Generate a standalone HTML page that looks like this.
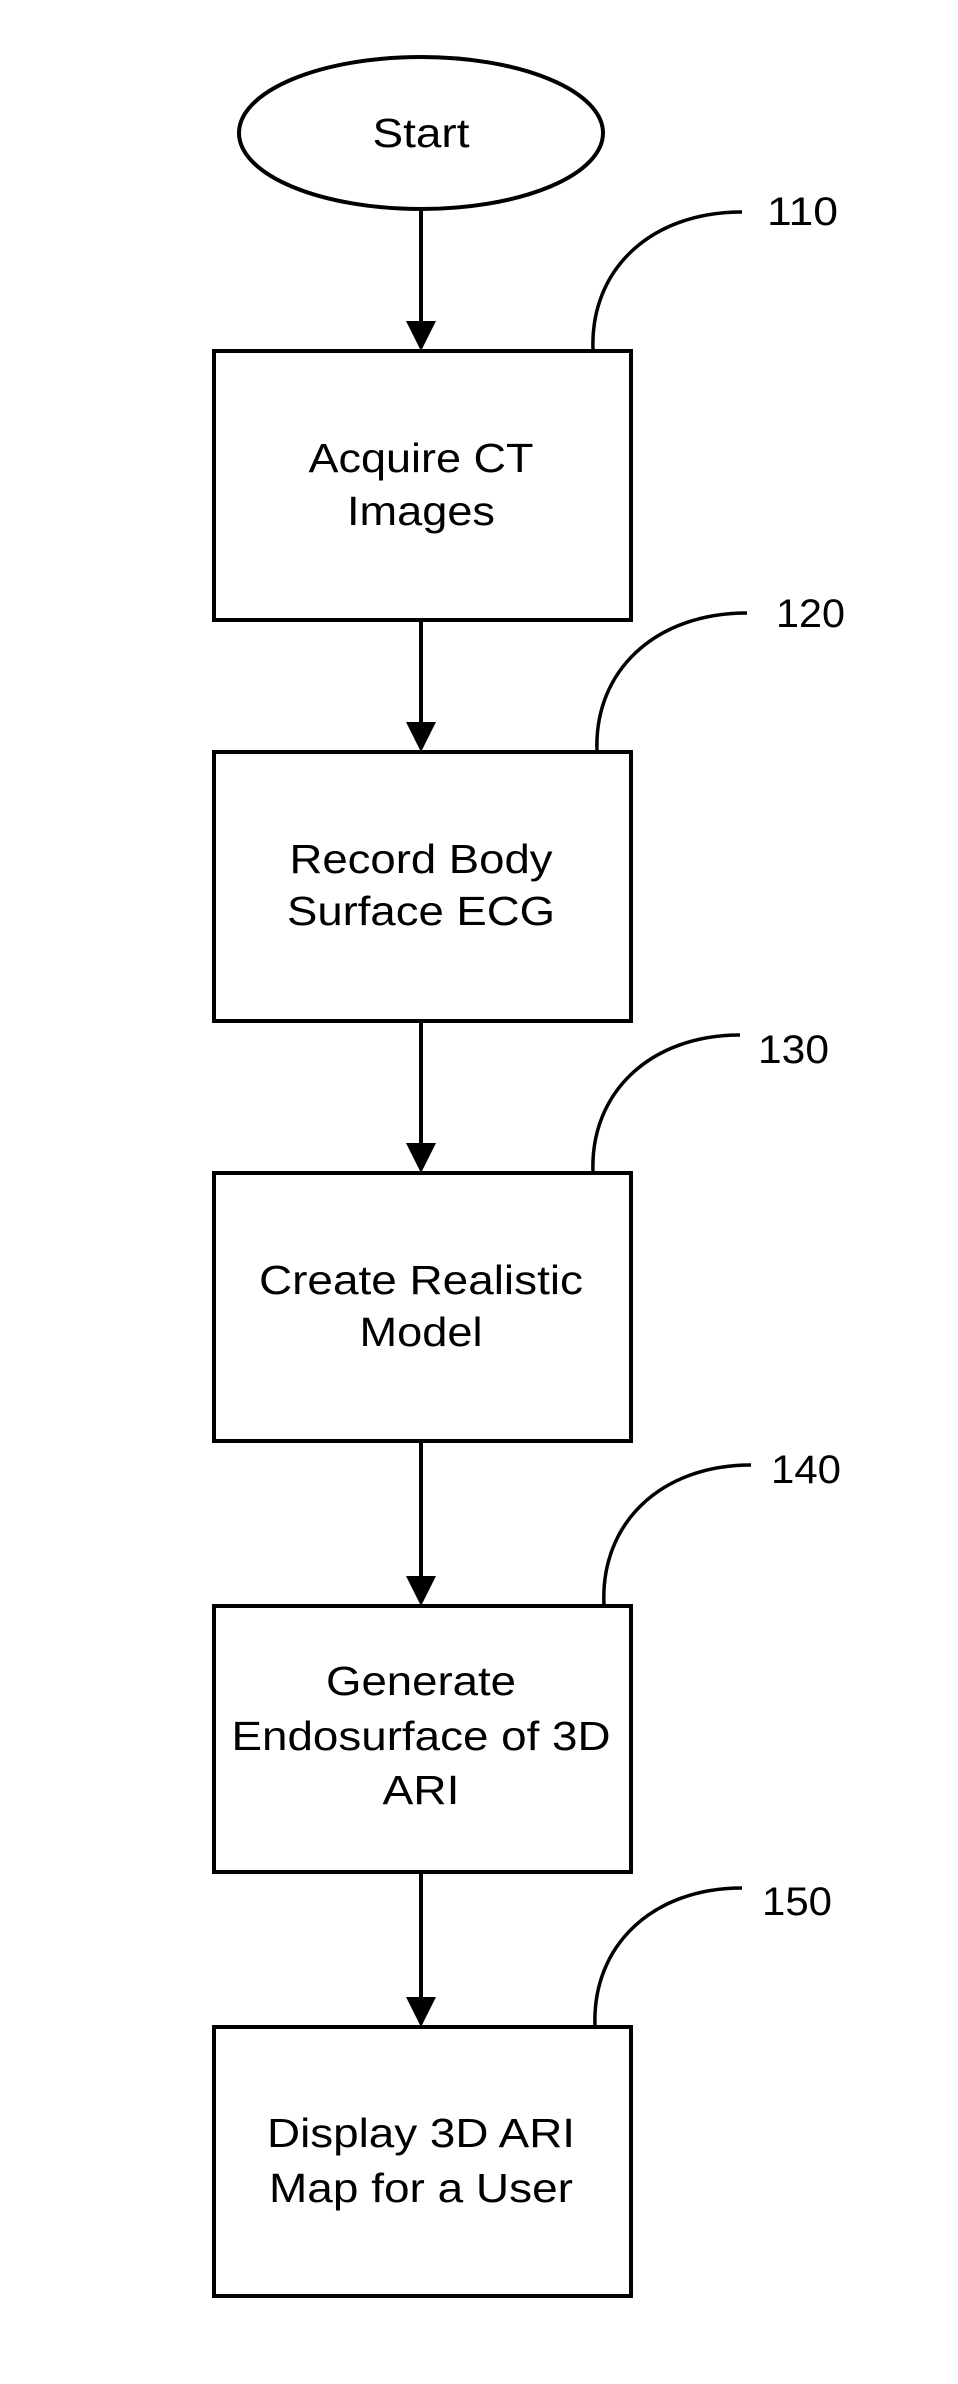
<!DOCTYPE html>
<html><head><meta charset="utf-8"><style>
html,body{margin:0;padding:0;background:#fff;}
svg{display:block;}
text{font-family:"Liberation Sans",Arial,sans-serif;fill:#000;}
</style></head><body>
<svg width="958" height="2384" viewBox="0 0 958 2384" xmlns="http://www.w3.org/2000/svg">
<g fill="none" stroke="#000" stroke-width="4">
<ellipse cx="421" cy="133" rx="182" ry="76"/>
<rect x="214" y="351" width="417" height="269"/>
<rect x="214" y="752" width="417" height="269"/>
<rect x="214" y="1173" width="417" height="268"/>
<rect x="214" y="1606" width="417" height="266"/>
<rect x="214" y="2027" width="417" height="269"/>
<line x1="421" y1="209" x2="421" y2="325"/>
<line x1="421" y1="620" x2="421" y2="726"/>
<line x1="421" y1="1021" x2="421" y2="1147"/>
<line x1="421" y1="1441" x2="421" y2="1580"/>
<line x1="421" y1="1872" x2="421" y2="2001"/>
<g stroke-width="3.5">
<path d="M593 350 C590 270 650 212 742 212"/>
<path d="M597 751 C594 671 655 613 747 613"/>
<path d="M593 1172 C590 1093 650 1035 740 1035"/>
<path d="M604 1605 C600 1524 660 1465 751 1465"/>
<path d="M595 2026 C592 1946 652 1888 742 1888"/>
</g>
</g>
<g fill="#000">
<polygon points="406,321 436,321 421,351"/>
<polygon points="406,722 436,722 421,752"/>
<polygon points="406,1143 436,1143 421,1173"/>
<polygon points="406,1576 436,1576 421,1606"/>
<polygon points="406,1997 436,1997 421,2027"/>
</g>
<g font-size="41" text-anchor="middle">
<text x="421" y="147" textLength="97" lengthAdjust="spacingAndGlyphs">Start</text>
<text x="421" y="472" textLength="225" lengthAdjust="spacingAndGlyphs">Acquire CT</text>
<text x="421" y="525" textLength="148" lengthAdjust="spacingAndGlyphs">Images</text>
<text x="421" y="873" textLength="263" lengthAdjust="spacingAndGlyphs">Record Body</text>
<text x="421" y="925" textLength="268" lengthAdjust="spacingAndGlyphs">Surface ECG</text>
<text x="421" y="1294" textLength="324" lengthAdjust="spacingAndGlyphs">Create Realistic</text>
<text x="421" y="1346" textLength="123" lengthAdjust="spacingAndGlyphs">Model</text>
<text x="421" y="1695" textLength="190" lengthAdjust="spacingAndGlyphs">Generate</text>
<text x="421" y="1750" textLength="379" lengthAdjust="spacingAndGlyphs">Endosurface of 3D</text>
<text x="421" y="1804" textLength="77" lengthAdjust="spacingAndGlyphs">ARI</text>
<text x="421" y="2147" textLength="308" lengthAdjust="spacingAndGlyphs">Display 3D ARI</text>
<text x="421" y="2202" textLength="304" lengthAdjust="spacingAndGlyphs">Map for a User</text>
</g>
<g font-size="40">
<text x="767" y="225" textLength="71" lengthAdjust="spacingAndGlyphs">110</text>
<text x="776" y="627" textLength="69" lengthAdjust="spacingAndGlyphs">120</text>
<text x="758" y="1063" textLength="71" lengthAdjust="spacingAndGlyphs">130</text>
<text x="771" y="1483" textLength="70" lengthAdjust="spacingAndGlyphs">140</text>
<text x="762" y="1915" textLength="70" lengthAdjust="spacingAndGlyphs">150</text>
</g>
</svg>
</body></html>
